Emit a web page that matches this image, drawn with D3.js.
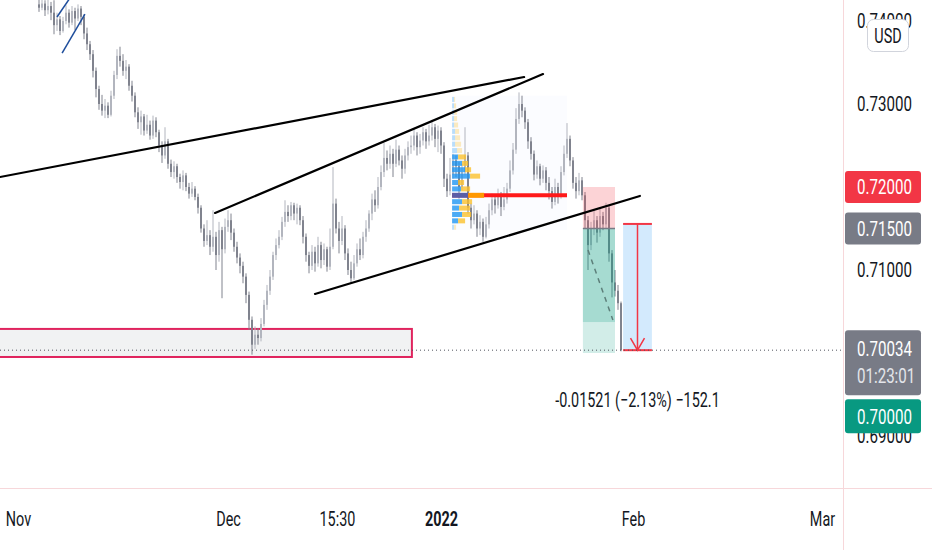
<!DOCTYPE html>
<html>
<head>
<meta charset="utf-8">
<script src="https://cdn.jsdelivr.net/npm/d3@7"></script>
<style>
  body { margin: 0; background: #fff; }
  svg { display: block; font-family: Roboto, "Noto Sans", sans-serif; }
</style>
</head>
<body>
<div id="chart"></div>
<script>
// 4h bars, prices in pips above 0.70000
const firstBar = 13;
const opens = [420,416,421,413,418,410,395,402,388,400,410,398,412,403,415,405,385,372,360,340,
  318,300,292,298,287,310,335,358,352,340,345,322,310,290,278,285,268,275,262,280,
  266,250,238,255,228,218,225,212,206,214,200,192,198,188,175,150,135,142,128,140,
  118,148,125,152,160,145,128,115,105,92,70,40,10,22,18,35,58,75,92,118,
  130,140,158,170,165,178,168,175,160,140,118,105,122,108,130,112,125,104,128,180,
  150,135,150,120,100,90,108,125,118,140,150,168,185,178,200,218,235,228,240,228,
  245,232,222,238,248,250,262,248,256,266,255,262,272,258,268,250,210,195,215,232,
  225,200,218,238,175,160,168,150,158,140,155,172,185,178,190,176,185,198,220,245,
  282,300,292,278,255,240,215,225,210,220,205,195,182,200,190,218,240,258,232,205,
  195,208,190,160,130,150,160,145,165,155,175,120,85,75,60];
const highs = [431,435,425,430,423,425,410,406,405,419,414,418,416,420,418,408,392,376,365,344,
  322,311,306,302,316,340,366,369,360,353,348,328,314,296,292,288,287,280,286,284,
  269,255,272,258,233,231,228,216,220,217,205,206,201,192,178,155,160,148,172,146,
  158,152,162,172,168,150,134,120,110,96,74,44,32,30,42,64,82,100,122,138,
  148,164,184,178,182,181,180,178,165,144,122,130,128,140,134,132,128,150,224,186,
  158,165,154,126,110,118,132,138,146,160,172,192,196,212,226,253,244,250,246,257,
  250,238,246,255,262,270,266,264,272,270,275,281,276,274,272,254,216,235,240,238,
  230,228,272,242,180,178,172,166,162,164,180,192,190,198,194,200,205,232,253,295,
  314,310,296,282,260,244,232,228,226,224,212,200,210,205,225,250,277,262,236,212,
  217,212,194,165,158,172,165,175,170,181,178,124,100,82,62];
const lows = [411,413,406,408,401,384,388,383,386,396,392,395,389,400,395,378,365,353,332,308,
  293,286,283,283,285,306,330,345,334,330,316,303,284,270,263,262,264,257,258,260,
  242,229,234,222,212,210,205,198,196,195,186,188,184,168,145,128,130,118,122,100,
  110,66,120,146,136,122,108,96,84,60,28,-2,5,10,14,32,52,70,88,112,
  126,136,152,158,160,160,155,154,132,110,96,100,98,104,102,106,98,100,125,144,
  120,130,112,94,84,88,104,112,114,134,146,160,170,174,196,212,220,222,212,224,
  226,210,216,232,240,244,238,240,250,246,250,256,248,242,240,200,188,190,210,212,
  186,196,214,168,150,155,140,142,134,138,150,166,168,174,165,172,180,194,215,240,
  276,284,270,246,233,208,210,202,205,196,185,174,178,180,186,214,235,225,198,186,
  190,184,150,100,124,142,133,140,148,150,110,67,68,52,2];
const closes = [416,421,413,418,410,395,402,388,400,410,398,412,403,415,405,385,372,360,340,318,
  300,292,298,287,310,335,358,352,340,345,322,310,290,278,285,268,275,262,280,266,
  250,238,255,228,218,225,212,206,214,200,192,198,188,175,150,135,142,128,140,118,
  148,125,152,160,145,128,115,105,92,70,40,10,22,18,35,58,75,92,118,130,
  140,158,170,165,178,168,175,160,140,118,105,122,108,130,112,125,104,128,180,150,
  135,150,120,100,90,108,125,118,140,150,168,185,178,200,218,235,228,240,228,245,
  232,222,238,248,250,262,248,256,266,255,262,272,258,268,250,210,195,215,232,225,
  200,218,238,175,160,168,150,158,140,155,172,185,178,190,176,185,198,220,245,282,
  300,292,278,255,240,215,225,210,220,205,195,182,200,190,218,240,258,232,205,195,
  208,190,160,130,150,160,145,165,155,175,120,85,75,60,3.4];

const timeTickBars = [6, 76, 112.3, 147, 211, 274];
const timeTickLabels = ["Nov", "Dec", "15:30", "2022", "Feb", "Mar"];
// 0.70 and 0.72 sit under the price tags
const priceTicks = [0.69, 0.71, 0.73, 0.74];

// fixed range volume profile
const profilePrices = [0.73055,0.72978,0.72901,0.72824,0.72747,0.7267,0.72593,0.72516,0.72439,0.72362,
  0.72285,0.72208,0.72131,0.72054,0.71977,0.7190,0.71823,0.71746,0.71669,0.71592,0.71515];
const profileUp   = [2,2,2,2,2,3,3,3,5,6,10,13,18,6,9,16,10,7,10,6,2];
const profileDown = [1,2,3,3,4,4,5,6,5,8,6,6,10,6,9,16,10,11,9,7,2];
const profileBars = [150.7, 189];
const pocPrice = 0.7190;
const valueArea = [0.71592, 0.72362];

// drawings: [bar, price]
const trendLines = [
  [[0, 0.72120], [174.7, 0.73325]],
  [[71.7, 0.71687], [181, 0.73361]],
  [[105, 0.70711], [213.3, 0.71892]]
];
const blueLines = [
  [[19, 0.74048], [24, 0.74313]],
  [[20.7, 0.73614], [28.3, 0.74084]]
];
const zoneBars = [-2, 137.3];
const zonePrices = [0.70290, 0.69952];
const positionBars = [194.3, 205];
const positionPrices = { stop: 0.72, entry: 0.715, target: 0.70, reached: 0.70373 };
const projection = [[196, 0.71241], [204.3, 0.70398]];
const measureBars = [207.7, 217.3];
const measurePrices = [0.71555, 0.70034];
const lastPrice = 0.70034;
const countdown = "01:23:01";

const W = 932, H = 550, plotR = 843, plotB = 488, SX = 0.72;

const x = d3.scaleLinear().domain([0, 310]).range([0, 930]);
const y = d3.scaleLinear().domain([0.69, 0.74]).range([436, 21]);
const px = v => 0.70 + v / 10000;

const candles = closes.map((c, k) => ({
  i: firstBar + k, o: px(opens[k]), h: px(highs[k]), l: px(lows[k]), c: px(c)
}));

const svg = d3.select("#chart").append("svg")
  .attr("width", W).attr("height", H);
svg.append("rect").attr("width", W).attr("height", H).attr("fill", "#fff");

svg.append("clipPath").attr("id", "plotclip")
  .append("rect").attr("x", 0).attr("y", 0).attr("width", plotR).attr("height", plotB);

const plot = svg.append("g").attr("clip-path", "url(#plotclip)");

// support zone
plot.append("rect")
  .attr("x", x(zoneBars[0])).attr("y", y(zonePrices[0]))
  .attr("width", x(zoneBars[1]) - x(zoneBars[0]))
  .attr("height", y(zonePrices[1]) - y(zonePrices[0]))
  .attr("fill", "rgba(120,123,134,0.1)")
  .attr("stroke", "#e0245e").attr("stroke-width", 2);

// profile background
plot.append("rect")
  .attr("x", x(profileBars[0])).attr("y", y(0.7310))
  .attr("width", x(profileBars[1]) - x(profileBars[0]))
  .attr("height", y(0.7148) - y(0.7310))
  .attr("fill", "rgba(41,98,255,0.02)");

// candles
const upCol = "#b2b5be", downCol = "#80838e";
plot.append("g").selectAll("line").data(candles).join("line")
  .attr("x1", d => x(d.i)).attr("x2", d => x(d.i))
  .attr("y1", d => y(d.h)).attr("y2", d => y(d.l))
  .attr("stroke", d => d.c >= d.o ? upCol : downCol)
  .attr("stroke-width", 1);
plot.append("g").selectAll("rect").data(candles).join("rect")
  .attr("x", d => x(d.i) - 1).attr("width", 2)
  .attr("y", d => y(Math.max(d.o, d.c)))
  .attr("height", d => Math.max(1, Math.abs(y(d.o) - y(d.c))))
  .attr("fill", d => d.c >= d.o ? upCol : downCol);

// volume profile
const rows = profilePrices.map((p, k) => ({ p, up: profileUp[k], dn: profileDown[k] }));
const vx = d3.scaleLinear()
  .domain([0, d3.max(rows, r => r.up + r.dn)])
  .range([0, 32]);
const x0 = x(profileBars[0]);
plot.append("line")
  .attr("x1", x0).attr("x2", x(profileBars[1]))
  .attr("y1", y(pocPrice)).attr("y2", y(pocPrice))
  .attr("stroke", "#ff1a1a").attr("stroke-width", 4);
const prof = plot.append("g");
rows.forEach(r => {
  const inVA = r.p >= valueArea[0] - 1e-6 && r.p <= valueArea[1] + 1e-6;
  const isPoc = Math.abs(r.p - pocPrice) < 1e-6;
  const op = inVA ? 0.8 : 0.3;
  prof.append("rect")
    .attr("x", x0).attr("y", y(r.p) - 2.5)
    .attr("width", vx(r.up)).attr("height", 5)
    .attr("fill", isPoc ? "#5b5ea6" : "#2196f3").attr("opacity", isPoc ? 1 : op);
  prof.append("rect")
    .attr("x", x0 + vx(r.up)).attr("y", y(r.p) - 2.5)
    .attr("width", vx(r.dn)).attr("height", 5)
    .attr("fill", isPoc ? "#ff9800" : "#fbc02d").attr("opacity", isPoc ? 1 : op);
});

// short position tool
const pX0 = x(positionBars[0]), pW = x(positionBars[1]) - pX0;
plot.append("rect").attr("x", pX0).attr("width", pW)
  .attr("y", y(positionPrices.stop))
  .attr("height", y(positionPrices.entry) - y(positionPrices.stop))
  .attr("fill", "rgba(242,54,69,0.22)");
plot.append("rect").attr("x", pX0).attr("width", pW)
  .attr("y", y(positionPrices.entry))
  .attr("height", y(positionPrices.target) - y(positionPrices.entry))
  .attr("fill", "rgba(8,153,129,0.18)");
plot.append("rect").attr("x", pX0).attr("width", pW)
  .attr("y", y(positionPrices.entry))
  .attr("height", y(positionPrices.reached) - y(positionPrices.entry))
  .attr("fill", "rgba(8,153,129,0.22)");
plot.append("line").attr("x1", pX0).attr("x2", pX0 + pW)
  .attr("y1", y(positionPrices.entry)).attr("y2", y(positionPrices.entry))
  .attr("stroke", "#787b86").attr("stroke-width", 1.5);
plot.append("line")
  .attr("x1", x(projection[0][0])).attr("y1", y(projection[0][1]))
  .attr("x2", x(projection[1][0])).attr("y2", y(projection[1][1]))
  .attr("stroke", "#5d7f7a").attr("stroke-width", 1.5).attr("stroke-dasharray", "5,5");

// price range measure
const mX0 = x(measureBars[0]), mX1 = x(measureBars[1]), mC = (mX0 + mX1) / 2;
const mT = y(measurePrices[0]), mB = y(measurePrices[1]);
plot.append("rect").attr("x", mX0).attr("y", mT)
  .attr("width", mX1 - mX0).attr("height", mB - mT)
  .attr("fill", "rgba(33,150,243,0.2)");
const red = "#f23645";
plot.append("line").attr("x1", mX0).attr("x2", mX1).attr("y1", mT).attr("y2", mT)
  .attr("stroke", red).attr("stroke-width", 2);
plot.append("line").attr("x1", mX0).attr("x2", mX1).attr("y1", mB).attr("y2", mB)
  .attr("stroke", red).attr("stroke-width", 2);
plot.append("line").attr("x1", mC).attr("x2", mC).attr("y1", mT).attr("y2", mB)
  .attr("stroke", red).attr("stroke-width", 1.5);
plot.append("polyline")
  .attr("points", `${mC - 7},${mB - 12} ${mC},${mB} ${mC + 7},${mB - 12}`)
  .attr("fill", "none").attr("stroke", red).attr("stroke-width", 1.5);

// trend lines
plot.append("g").selectAll("line").data(trendLines).join("line")
  .attr("x1", d => x(d[0][0])).attr("y1", d => y(d[0][1]))
  .attr("x2", d => x(d[1][0])).attr("y2", d => y(d[1][1]))
  .attr("stroke", "#000").attr("stroke-width", 2.2).attr("stroke-linecap", "round");
plot.append("g").selectAll("line").data(blueLines).join("line")
  .attr("x1", d => x(d[0][0])).attr("y1", d => y(d[0][1]))
  .attr("x2", d => x(d[1][0])).attr("y2", d => y(d[1][1]))
  .attr("stroke", "#1f4e9c").attr("stroke-width", 1.5);

// last price line
plot.append("line").attr("x1", 0).attr("x2", plotR)
  .attr("y1", y(lastPrice)).attr("y2", y(lastPrice))
  .attr("stroke", "#50535e").attr("stroke-width", 1).attr("stroke-dasharray", "1,3");

function label(parent, lx, ly, str, opt = {}) {
  const g = parent.append("g").attr("transform", `translate(${lx},${ly}) scale(${SX},1)`);
  return g.append("text").attr("dy", "0.35em")
    .attr("text-anchor", opt.anchor || "start")
    .attr("font-size", opt.size || 21)
    .attr("font-weight", opt.weight || 400)
    .attr("fill", opt.fill || "#131722")
    .text(str);
}

// measure label
const diff = measurePrices[1] - measurePrices[0];
label(svg, mC, 400,
  `-${Math.abs(diff).toFixed(5)} (\u2212${Math.abs(diff / measurePrices[0] * 100).toFixed(2)}%) \u2212${Math.abs(diff * 10000).toFixed(1)}`,
  { anchor: "middle", size: 20 });

// separators
svg.append("line").attr("x1", plotR + 0.5).attr("x2", plotR + 0.5).attr("y1", 0).attr("y2", H)
  .attr("stroke", "#f7d7da");
svg.append("line").attr("x1", 0).attr("x2", W).attr("y1", plotB + 0.5).attr("y2", plotB + 0.5)
  .attr("stroke", "#f7d7da");

// price axis
const yAxis = svg.append("g").attr("transform", `translate(${plotR},0)`)
  .call(d3.axisRight(y).tickValues(priceTicks).tickFormat(d3.format(".5f")).tickSize(0))
  .attr("font-size", 21).attr("font-family", "Roboto, sans-serif");
yAxis.select(".domain").remove();
yAxis.selectAll("text").attr("x", 14 / SX).attr("transform", `scale(${SX},1)`).attr("fill", "#131722");

// time axis
const xAxis = svg.append("g").attr("transform", `translate(0,${plotB})`)
  .call(d3.axisBottom(x).tickValues(timeTickBars)
    .tickFormat((d, i) => timeTickLabels[i]).tickSize(0).tickPadding(24))
  .attr("font-size", 20).attr("font-family", "Roboto, sans-serif");
xAxis.select(".domain").remove();
xAxis.selectAll("text").attr("transform", `scale(${SX},1)`).attr("fill", "#131722")
  .attr("font-weight", (d, i) => timeTickLabels[i] === "2022" ? 700 : 400);

// price tags
const tagX = plotR + 2, tagW = 76;
function tag(top, h, fill) {
  svg.append("rect").attr("x", tagX).attr("y", top).attr("width", tagW).attr("height", h)
    .attr("rx", 3).attr("fill", fill);
}
const f5 = d3.format(".5f");
tag(y(positionPrices.stop) - 16, 32, "#f23645");
label(svg, 857, y(positionPrices.stop), f5(positionPrices.stop), { fill: "#fff" });
tag(y(positionPrices.entry) - 16, 32, "#787b86");
label(svg, 857, y(positionPrices.entry), f5(positionPrices.entry), { fill: "#fff" });
const lastY = y(lastPrice) - 2;
const lastTop = lastY - 18, lastBottom = lastTop + 65;
tag(lastTop, 65, "#787b86");
label(svg, 857, lastY, f5(lastPrice), { fill: "#fff" });
label(svg, 857, lastY + 27, countdown, { fill: "#e3e5ea" });
const tgtTop = Math.max(y(positionPrices.target) - 17, lastBottom + 4);
tag(tgtTop, 34, "#089981");
label(svg, 857, tgtTop + 17, f5(positionPrices.target), { fill: "#fff" });

// currency button
svg.append("rect").attr("x", 867.5).attr("y", 19.5).attr("width", 41).attr("height", 32)
  .attr("rx", 6).attr("fill", "#fff").attr("stroke", "#d1d4dc");
label(svg, 888, 36, "USD", { anchor: "middle", size: 20 });
</script>
</body>
</html>
